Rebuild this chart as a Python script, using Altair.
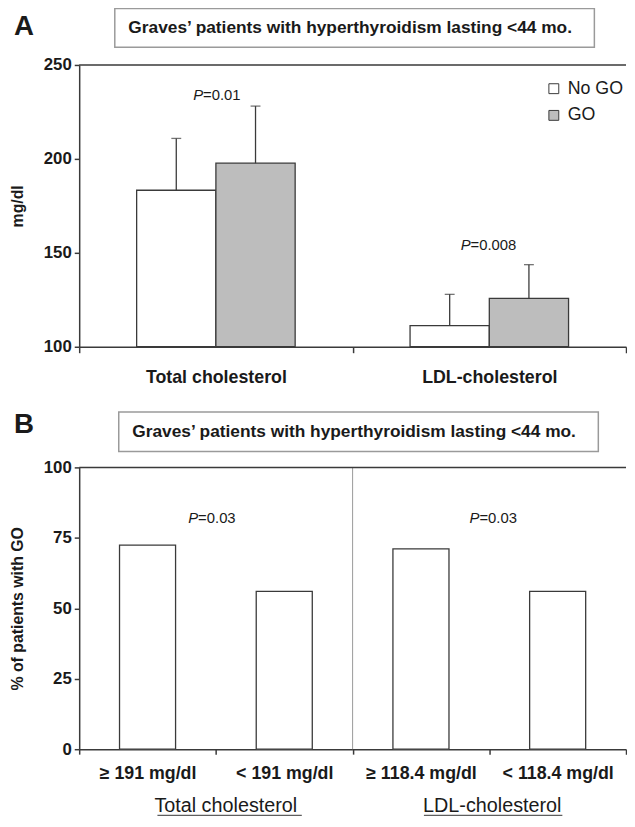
import altair as alt
import pandas as pd

FONT = "Liberation Sans"
INK = "#1a1a1a"
LINE = "#3a3a3a"

# ---------------- Panel A data ----------------
a_measures = ["Total cholesterol", "LDL-cholesterol"]
a_groups = ["No GO", "GO"]
a_nogo_mean = [183.3, 111.3]
a_nogo_upper = [210.9, 127.9]
a_go_mean = [197.7, 125.8]
a_go_upper = [228.1, 143.7]
a_p_values = ["=0.01", "=0.008"]
a_p_y = [234, 154]
a_ticks = [100, 150, 200, 250]

# ---------------- Panel B data ----------------
b_categories = ["≥ 191 mg/dl", "< 191 mg/dl", "≥ 118.4 mg/dl", "< 118.4 mg/dl"]
b_percent = [72.4, 56.0, 71.1, 56.0]
b_group_labels = ["Total cholesterol", "LDL-cholesterol"]
b_group_first = ["≥ 191 mg/dl", "≥ 118.4 mg/dl"]
b_p_values = ["=0.03", "=0.03"]
b_p_y = [82, 82]
b_ticks = [0, 25, 50, 75, 100]

title_a = "Graves’ patients with hyperthyroidism lasting <44 mo."
title_b = "Graves’  patients with hyperthyroidism lasting <44 mo."

# ---------------- layout constants ----------------
W, H = 553, 285
a_p_split = [-13, -19]
b_p_split = [-18, -10]
b_underline = [146, 140]
b_group_dx = [10, 3]


def one_row():
    return pd.DataFrame({"k": [0]})


# ================= Panel A =================
rows = []
for i, m in enumerate(a_measures):
    rows.append(dict(measure=m, group="No GO", mean=a_nogo_mean[i], upper=a_nogo_upper[i]))
    rows.append(dict(measure=m, group="GO", mean=a_go_mean[i], upper=a_go_upper[i]))
df_a = pd.DataFrame(rows)

axis_xa = alt.Axis(title=None, tickBand="extent", labelAngle=0, labelFontSize=18,
                   labelFontWeight="bold", tickSize=6, labelPadding=16, grid=False)
axis_ya = alt.Axis(values=a_ticks, title="mg/dl", tickSize=5, labelPadding=3,
                   labelFontSize=17, labelFontWeight="bold", titleFontSize=16,
                   titleFontWeight="bold", titleX=-62, titleY=H / 2, titleAngle=-90,
                   titleAlign="center", titleBaseline="middle", grid=False)
scale_ya = alt.Scale(domain=[100, 250], zero=False, nice=False)


def xa():
    return alt.X("measure:N", scale=alt.Scale(domain=a_measures, paddingInner=0, paddingOuter=0),
                 axis=axis_xa)


def xoff():
    return alt.XOffset("group:N", scale=alt.Scale(domain=a_groups, paddingInner=0, paddingOuter=0.725))


def ya(field):
    return alt.Y(field, type="quantitative", scale=scale_ya, axis=axis_ya)


legend_a = alt.Legend(orient="none", legendX=471, legendY=15, title=None, symbolType="square",
                      symbolSize=100, symbolStrokeColor=LINE, symbolStrokeWidth=1,
                      labelFontSize=18, labelFont=FONT, labelColor=INK, rowPadding=9,
                      labelOffset=5)

bars_a = alt.Chart(df_a).mark_bar(stroke=LINE, strokeWidth=1.3).encode(
    x=xa(), xOffset=xoff(), y=ya("mean"), y2=alt.datum(100),
    fill=alt.Fill("group:N", scale=alt.Scale(domain=a_groups, range=["#ffffff", "#bdbdbd"]),
                  legend=legend_a),
)
err_a = alt.Chart(df_a).mark_rule(color=LINE, strokeWidth=1.3).encode(
    x=xa(), xOffset=xoff(), y=ya("mean"), y2="upper:Q")
caps_a = alt.Chart(df_a).mark_tick(color=LINE, thickness=1.3, size=10, orient="horizontal").encode(
    x=xa(), xOffset=xoff(), y=ya("upper"))
top_a = alt.Chart(one_row()).mark_rule(color=LINE, strokeWidth=1.5).encode(
    x=alt.value(0), x2=alt.value(W), y=alt.YDatum(250, scale=scale_ya, axis=axis_ya))

p_layers_a = []
for i, m in enumerate(a_measures):
    d = pd.DataFrame({"measure": [m], "mean": [a_p_y[i]], "pv": [a_p_values[i]]})
    p_layers_a.append(alt.Chart(d).mark_text(fontStyle="italic", fontSize=15, align="right",
                                             baseline="middle", dx=a_p_split[i], color=INK)
                      .encode(x=xa(), y=ya("mean"), text=alt.value("P")))
    p_layers_a.append(alt.Chart(d).mark_text(fontSize=15, align="left", baseline="middle",
                                             dx=a_p_split[i], color=INK)
                      .encode(x=xa(), y=ya("mean"), text="pv:N"))

box_a = alt.Chart(one_row()).mark_rect(fill="white", stroke="#9a9a9a", strokeWidth=1.5).encode(
    x=alt.value(36), x2=alt.value(521), y=alt.value(-57), y2=alt.value(-18))
title_text_a = alt.Chart(one_row()).mark_text(fontSize=17.5, fontWeight="bold", color=INK,
                                              align="center", baseline="middle").encode(
    x=alt.value(274), y=alt.value(-37), text=alt.value(title_a))
letter_a = alt.Chart(one_row()).mark_text(fontSize=28, fontWeight="bold", color=INK,
                                          align="left", baseline="middle").encode(
    x=alt.value(-66), y=alt.value(-38), text=alt.value("A"))

panel_a = alt.layer(bars_a, err_a, caps_a, top_a, *p_layers_a,
                    box_a, title_text_a, letter_a).properties(width=W, height=H)

# ================= Panel B =================
df_b = pd.DataFrame({"cat": b_categories, "pct": b_percent})

axis_xb = alt.Axis(title=None, tickBand="extent", labelAngle=0, labelFontSize=18,
                   labelFontWeight="bold", tickSize=5, labelPadding=11, labelOverlap=False,
                   grid=False)
axis_yb = alt.Axis(values=b_ticks, title="% of patients with GO", tickSize=5, labelPadding=3,
                   labelFontSize=17, labelFontWeight="bold", titleFontSize=16,
                   titleFontWeight="bold", titleX=-62, titleY=H / 2, titleAngle=-90,
                   titleAlign="center", titleBaseline="middle", grid=False)
scale_yb = alt.Scale(domain=[0, 100], nice=False)


def xb(band=None):
    kw = dict(scale=alt.Scale(domain=b_categories, paddingInner=0, paddingOuter=0), axis=axis_xb)
    if band is not None:
        kw["bandPosition"] = band
    return alt.X("cat:N", **kw)


def yb(field):
    return alt.Y(field, type="quantitative", scale=scale_yb, axis=axis_yb)


bars_b = alt.Chart(df_b).mark_bar(fill="white", stroke=LINE, strokeWidth=1.3,
                                  width=alt.RelativeBandSize(0.41)).encode(
    x=xb(), y=yb("pct"))
sep_b = alt.Chart(pd.DataFrame({"cat": [b_categories[2]]})).mark_rule(
    color="#9a9a9a", strokeWidth=1).encode(x=xb(band=0), y=alt.value(0), y2=alt.value(H))
top_b = alt.Chart(one_row()).mark_rule(color=LINE, strokeWidth=1.5).encode(
    x=alt.value(0), x2=alt.value(W), y=alt.YDatum(100, scale=scale_yb, axis=axis_yb))

grp_layers = []
for i, c in enumerate(b_group_first):
    d = pd.DataFrame({"cat": [c], "label": [b_group_labels[i]]})
    grp_layers.append(alt.Chart(d).mark_text(fontSize=20, color=INK, baseline="middle",
                                             dx=b_group_dx[i]).encode(
        x=xb(band=1), y=alt.value(342), text="label:N"))
    grp_layers.append(alt.Chart(d).mark_tick(
        orient="horizontal", size=b_underline[i], thickness=1.2, color=INK,
        xOffset=b_underline[i] / 2 + b_group_dx[i]).encode(
        x=xb(band=1), y=alt.value(352)))

p_layers_b = []
for i, c in enumerate(b_group_first):
    d = pd.DataFrame({"cat": [c], "pct": [b_p_y[i]], "pv": [b_p_values[i]]})
    p_layers_b.append(alt.Chart(d).mark_text(fontStyle="italic", fontSize=15, align="right",
                                             baseline="middle", dx=b_p_split[i], color=INK)
                      .encode(x=xb(band=1), y=yb("pct"), text=alt.value("P")))
    p_layers_b.append(alt.Chart(d).mark_text(fontSize=15, align="left", baseline="middle",
                                             dx=b_p_split[i], color=INK)
                      .encode(x=xb(band=1), y=yb("pct"), text="pv:N"))

box_b = alt.Chart(one_row()).mark_rect(fill="white", stroke="#9a9a9a", strokeWidth=1.5).encode(
    x=alt.value(40), x2=alt.value(525), y=alt.value(-56), y2=alt.value(-16))
title_text_b = alt.Chart(one_row()).mark_text(fontSize=17.5, fontWeight="bold", color=INK,
                                              align="center", baseline="middle").encode(
    x=alt.value(278), y=alt.value(-36), text=alt.value(title_b))
letter_b = alt.Chart(one_row()).mark_text(fontSize=28, fontWeight="bold", color=INK,
                                          align="left", baseline="middle").encode(
    x=alt.value(-66), y=alt.value(-43), text=alt.value("B"))

panel_b = alt.layer(bars_b, sep_b, top_b, *grp_layers, *p_layers_b,
                    box_b, title_text_b, letter_b).properties(width=W, height=H)

chart = alt.vconcat(panel_a, panel_b, spacing=25).properties(
    padding={"left": 2, "top": -5, "right": 0, "bottom": 0}
).configure(font=FONT).configure_view(stroke=None).configure_axis(
    domainColor=LINE, domainWidth=1.5, tickColor=LINE, tickWidth=1.5,
    labelColor=INK, titleColor=INK, labelFont=FONT, titleFont=FONT,
)

chart.save("out.html", embed_options={"renderer": "svg", "actions": False})
